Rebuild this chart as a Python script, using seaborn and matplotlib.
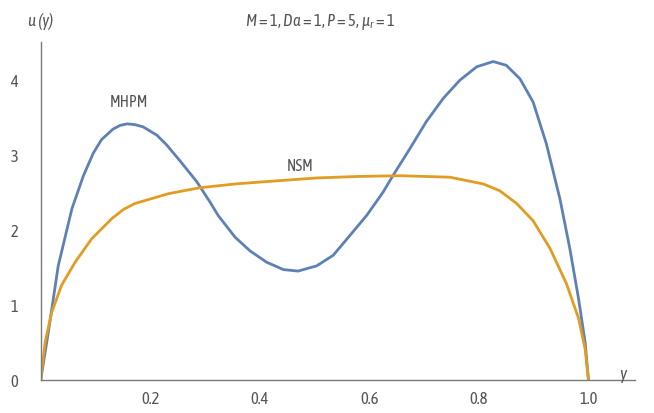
import matplotlib
matplotlib.use("Agg")
import matplotlib.pyplot as plt
from matplotlib import font_manager
import seaborn as sns
import pandas as pd

# MHPM curve (blue)
mhpm_x = [0.000, 0.014, 0.032, 0.057, 0.078, 0.096, 0.111, 0.132, 0.145, 0.158,
          0.172, 0.187, 0.212, 0.230, 0.254, 0.285, 0.309, 0.324, 0.355, 0.382,
          0.412, 0.443, 0.470, 0.504, 0.534, 0.564, 0.595, 0.625, 0.643, 0.674,
          0.704, 0.735, 0.765, 0.796, 0.826, 0.850, 0.875, 0.899, 0.923, 0.948,
          0.966, 0.982, 0.994, 1.000]
mhpm_u = [0.00, 0.64, 1.52, 2.28, 2.72, 3.02, 3.20, 3.34, 3.39, 3.41,
          3.40, 3.37, 3.26, 3.13, 2.92, 2.64, 2.37, 2.19, 1.90, 1.72,
          1.57, 1.47, 1.45, 1.52, 1.66, 1.92, 2.19, 2.50, 2.72, 3.08,
          3.44, 3.75, 3.99, 4.17, 4.24, 4.19, 4.01, 3.70, 3.15, 2.41,
          1.75, 1.08, 0.50, 0.00]

# NSM curve (orange)
nsm_x = [0.000, 0.008, 0.020, 0.038, 0.063, 0.093, 0.130, 0.151, 0.172, 0.205,
         0.233, 0.254, 0.291, 0.355, 0.409, 0.504, 0.580, 0.656, 0.747, 0.808,
         0.838, 0.869, 0.899, 0.930, 0.960, 0.982, 0.994, 1.000]
nsm_u = [0.00, 0.50, 0.90, 1.26, 1.57, 1.88, 2.15, 2.27, 2.35, 2.42,
         2.48, 2.51, 2.56, 2.61, 2.64, 2.69, 2.71, 2.72, 2.70, 2.61,
         2.52, 2.35, 2.12, 1.75, 1.28, 0.82, 0.41, 0.00]

x_ticks = [0.2, 0.4, 0.6, 0.8, 1.0]
x_tick_labels = ["0.2", "0.4", "0.6", "0.8", "1.0"]
y_ticks = [0, 1, 2, 3, 4]

sns.set_theme(style="white")

# condensed face if there is one, else DejaVu condensed
fonts = font_manager.fontManager.ttflist
has_asap_it = any(f.name == "Asap Condensed" and f.style == "italic" for f in fonts)
if has_asap_it:
    family, stretch, spec = "Asap Condensed", "normal", "Asap Condensed"
else:
    family, stretch, spec = "DejaVu Sans", "condensed", "DejaVu Sans:condensed"
plt.rcParams["font.family"] = [family, "DejaVu Sans"]
plt.rcParams["font.stretch"] = stretch
plt.rcParams["mathtext.fontset"] = "custom"
plt.rcParams["mathtext.rm"] = spec
plt.rcParams["mathtext.it"] = spec + ":italic"

text_color = "#555555"
axis_color = "#7a7a7a"

df = pd.concat([
    pd.DataFrame({"y": mhpm_x, "u": mhpm_u, "method": "MHPM"}),
    pd.DataFrame({"y": nsm_x, "u": nsm_u, "method": "NSM"}),
])

fig = plt.figure(figsize=(6.54, 4.14), dpi=100)
ax = fig.add_axes([40.7 / 654, 33 / 414, (635 - 40.7) / 654, (381 - 43) / 414])

sns.lineplot(data=df, x="y", y="u", hue="method", sort=False, estimator=None,
             palette={"MHPM": "#5E81B5", "NSM": "#E19C24"}, linewidth=2.0,
             legend=False, ax=ax)

ax.set_xlim(0, 1.085)
ax.set_ylim(0, 4.5)
ax.set_xticks(x_ticks)
ax.set_xticklabels(x_tick_labels)
ax.set_yticks(y_ticks)
ax.tick_params(length=0, labelsize=12, colors=text_color)
ax.tick_params(axis="x", pad=7)
ax.tick_params(axis="y", pad=16)
ax.set_xlabel("")
ax.set_ylabel("")
for side in ["top", "right"]:
    ax.spines[side].set_visible(False)
for side in ["left", "bottom"]:
    ax.spines[side].set_color(axis_color)
    ax.spines[side].set_linewidth(1.0)

ax.text(0.161, 3.71, "MHPM", ha="center", va="center", fontsize=11.5, color=text_color)
ax.text(0.473, 2.85, "NSM", ha="center", va="center", fontsize=11.5, color=text_color)
ax.text(1.063, 0.08, "y", style="italic", ha="center", va="center",
        fontsize=12.5, color=text_color, clip_on=False)
ax.text(0.0, 4.78, "u (y)", style="italic", ha="center", va="center",
        fontsize=12, color=text_color, clip_on=False)
ax.text(0.51, 4.78, r"$M=1, Da=1, P=5, \mu_r=1$", ha="center", va="center",
        fontsize=12, color=text_color, clip_on=False)

fig.savefig("out.png", dpi=100)
